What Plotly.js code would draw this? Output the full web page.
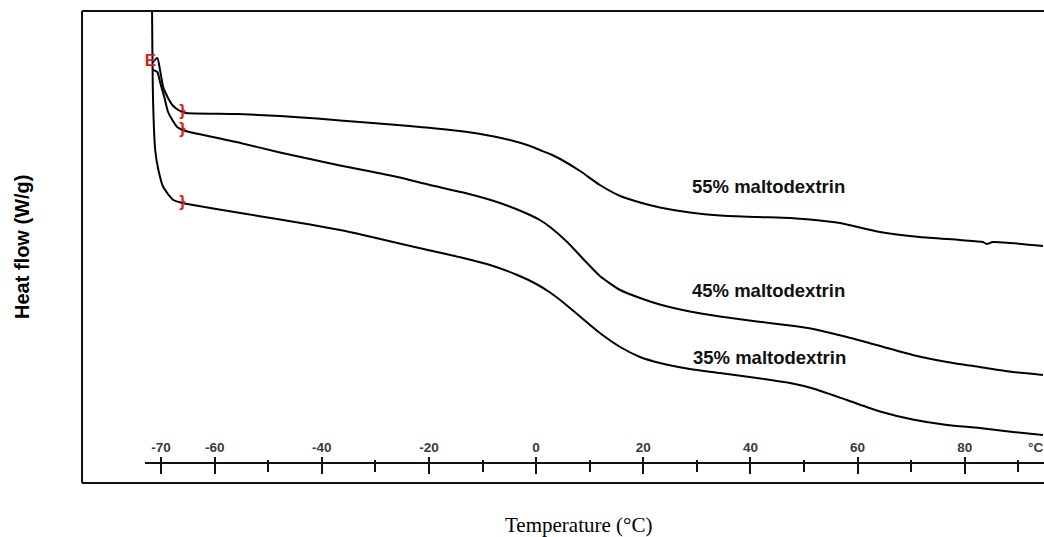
<!DOCTYPE html>
<html>
<head>
<meta charset="utf-8">
<script src="https://cdn.plot.ly/plotly-3.0.1.min.js"></script>
<style>html,body{margin:0;padding:0;background:#fff;}#chart{width:1044px;height:537px;}</style>
</head>
<body>
<div id="chart"></div>
<script>
// Temperature (°C) and heat flow (arbitrary units)
const temp55 = [-71.5,-70.7,-70.2,-69.6,-68.8,-67.9,-66.8,-66.0,-65.5,-55.8,-47.8,-40.9,-36.6,-25.9,-16.0,-10.4,-4.9,-1.1,0.7,2.6,4.5,8.2,11.9,15.7,19.4,23.1,28.7,34.3,41.2,47.4,51.1,56.7,64.2,71.6,79.1,83.4,84.1,85.3,94.6];
const flow55 = [4.21,4.25,4.13,3.96,3.86,3.78,3.73,3.71,3.70,3.69,3.67,3.645,3.625,3.58,3.53,3.49,3.43,3.37,3.33,3.29,3.24,3.12,2.98,2.87,2.805,2.755,2.705,2.675,2.66,2.65,2.635,2.60,2.51,2.46,2.43,2.41,2.39,2.41,2.37];

const temp45 = [-71.5,-70.7,-70.2,-69.4,-68.7,-67.9,-67.0,-66.0,-65.1,-55.2,-47.8,-42.2,-36.6,-32.3,-25.9,-19.8,-13.6,-7.3,-2.4,0.7,2.6,5.8,8.8,11.9,15.7,19.4,23.1,28.7,34.3,41.2,47.4,51.7,58.0,64.2,70.3,76.7,82.8,89.0,94.6];
const flow45 = [4.13,4.11,4.01,3.86,3.71,3.63,3.56,3.53,3.515,3.40,3.305,3.24,3.175,3.13,3.06,2.98,2.905,2.81,2.71,2.63,2.56,2.41,2.24,2.07,1.93,1.85,1.785,1.715,1.665,1.615,1.575,1.54,1.46,1.37,1.28,1.21,1.16,1.11,1.08];

const temp35 = [-71.7,-71.5,-71.1,-70.5,-69.6,-67.7,-66.0,-65.1,-55.2,-47.8,-42.2,-36.6,-32.3,-25.9,-19.8,-13.6,-8.6,-3.5,0.2,2.6,4.5,8.2,11.9,15.7,19.4,23.1,28.7,34.3,41.2,47.4,51.7,58.0,64.2,70.3,76.7,82.8,89.0,94.6];
const flow35 = [4.85,3.83,3.33,3.13,2.96,2.83,2.80,2.79,2.70,2.635,2.585,2.53,2.48,2.40,2.325,2.25,2.18,2.08,1.985,1.905,1.83,1.665,1.50,1.36,1.26,1.20,1.14,1.10,1.05,1.00,0.945,0.83,0.715,0.635,0.58,0.55,0.51,0.48];

// Red integration markers on the curves
const markTemp = [-66.0,-66.0,-66.0,-72.0];
const markFlow = [3.71,3.53,2.80,4.21];
const markText = ['}','}','}','E'];

// Series labels
const seriesNames = ['55% maltodextrin','45% maltodextrin','35% maltodextrin'];
const labelTemp = [28.7,28.7,28.9];
const labelFlow = [2.97,1.93,1.26];

// Axis ticks
const majorTicks = [-70,-60,-40,-20,0,20,40,60,80];
const majorText = ['-70','-60','-40','-20','0','20','40','60','80'];
const minorTicks = [-50,-30,-10,10,30,50,70,90];

const lineStyle = {color:'#000', width:2, shape:'spline', smoothing:0.6};
const traces = [
  {x:temp55, y:flow55, mode:'lines', line:lineStyle, name:seriesNames[0], hoverinfo:'skip'},
  {x:temp45, y:flow45, mode:'lines', line:lineStyle, name:seriesNames[1], hoverinfo:'skip'},
  {x:temp35, y:flow35, mode:'lines', line:lineStyle, name:seriesNames[2], hoverinfo:'skip'},
  {x:markTemp, y:markFlow, xaxis:'x2', mode:'text', text:markText, cliponaxis:false,
   textfont:{family:'Liberation Sans, Arial, sans-serif', size:17, color:'#e31a1c', weight:700}, hoverinfo:'skip'}
];

const AXPOS = 0.0424;
const tickFont = {family:'Liberation Sans, Arial, sans-serif', size:13.5, color:'#3a3a3a', weight:700};
const layout = {
  width:1044, height:537,
  margin:{l:82, r:0, t:11, b:54, pad:0},
  paper_bgcolor:'#fff', plot_bgcolor:'#fff',
  showlegend:false,
  xaxis:{
    domain:[0.0655,1], range:[-73,94.8], anchor:'free', position:AXPOS, side:'bottom',
    showline:true, linecolor:'#111', linewidth:2, showgrid:false, zeroline:false,
    tickmode:'array', tickvals:majorTicks, ticks:'outside', ticklen:10, tickwidth:2, tickcolor:'#111',
    showticklabels:false,
    minor:{tickmode:'array', tickvals:minorTicks, ticks:'outside', ticklen:8, tickwidth:2, tickcolor:'#111', showgrid:false}
  },
  xaxis2:{
    overlaying:'x', range:[-73,94.8], anchor:'free', position:AXPOS, side:'top',
    showline:false, showgrid:false, zeroline:false,
    tickmode:'array', tickvals:majorTicks, ticktext:majorText, ticks:'outside', ticklen:6, tickwidth:2, tickcolor:'#111',
    tickfont:tickFont,
    minor:{tickmode:'array', tickvals:minorTicks, ticks:'outside', ticklen:3, tickwidth:2, tickcolor:'#111', showgrid:false}
  },
  yaxis:{domain:[0,1], range:[0,4.72], visible:false, showgrid:false, zeroline:false},
  shapes:[
    {type:'line', xref:'paper', yref:'paper', x0:0, x1:0, y0:0, y1:1, line:{color:'#111', width:2}},
    {type:'line', xref:'paper', yref:'paper', x0:0, x1:1, y0:1, y1:1, line:{color:'#111', width:2}},
    {type:'line', xref:'paper', yref:'paper', x0:0, x1:1, y0:0, y1:0, line:{color:'#111', width:2}}
  ],
  annotations:[
    ...seriesNames.map((s,i)=>({x:labelTemp[i], y:labelFlow[i], xref:'x', yref:'y', text:s, showarrow:false,
      xanchor:'left', yanchor:'middle', font:{family:'Liberation Sans, Arial, sans-serif', size:18.5, color:'#111', weight:700}})),
    {x:93.2, y:AXPOS, xref:'x', yref:'paper', yshift:15, text:'°C', showarrow:false, xanchor:'center', yanchor:'middle', font:tickFont},
    {x:-0.0624, y:0.5, xref:'paper', yref:'paper', text:'Heat flow (W/g)', textangle:-90, showarrow:false,
      xanchor:'center', yanchor:'middle', font:{family:'Liberation Sans, Arial, sans-serif', size:20, color:'#000', weight:700}},
    {x:0.5156, y:-0.089, xref:'paper', yref:'paper', text:'Temperature (°C)', showarrow:false,
      xanchor:'center', yanchor:'middle', font:{family:'Liberation Serif, Times New Roman, serif', size:21, color:'#000'}}
  ]
};
Plotly.newPlot('chart', traces, layout, {staticPlot:true, displayModeBar:false});
</script>
</body>
</html>
